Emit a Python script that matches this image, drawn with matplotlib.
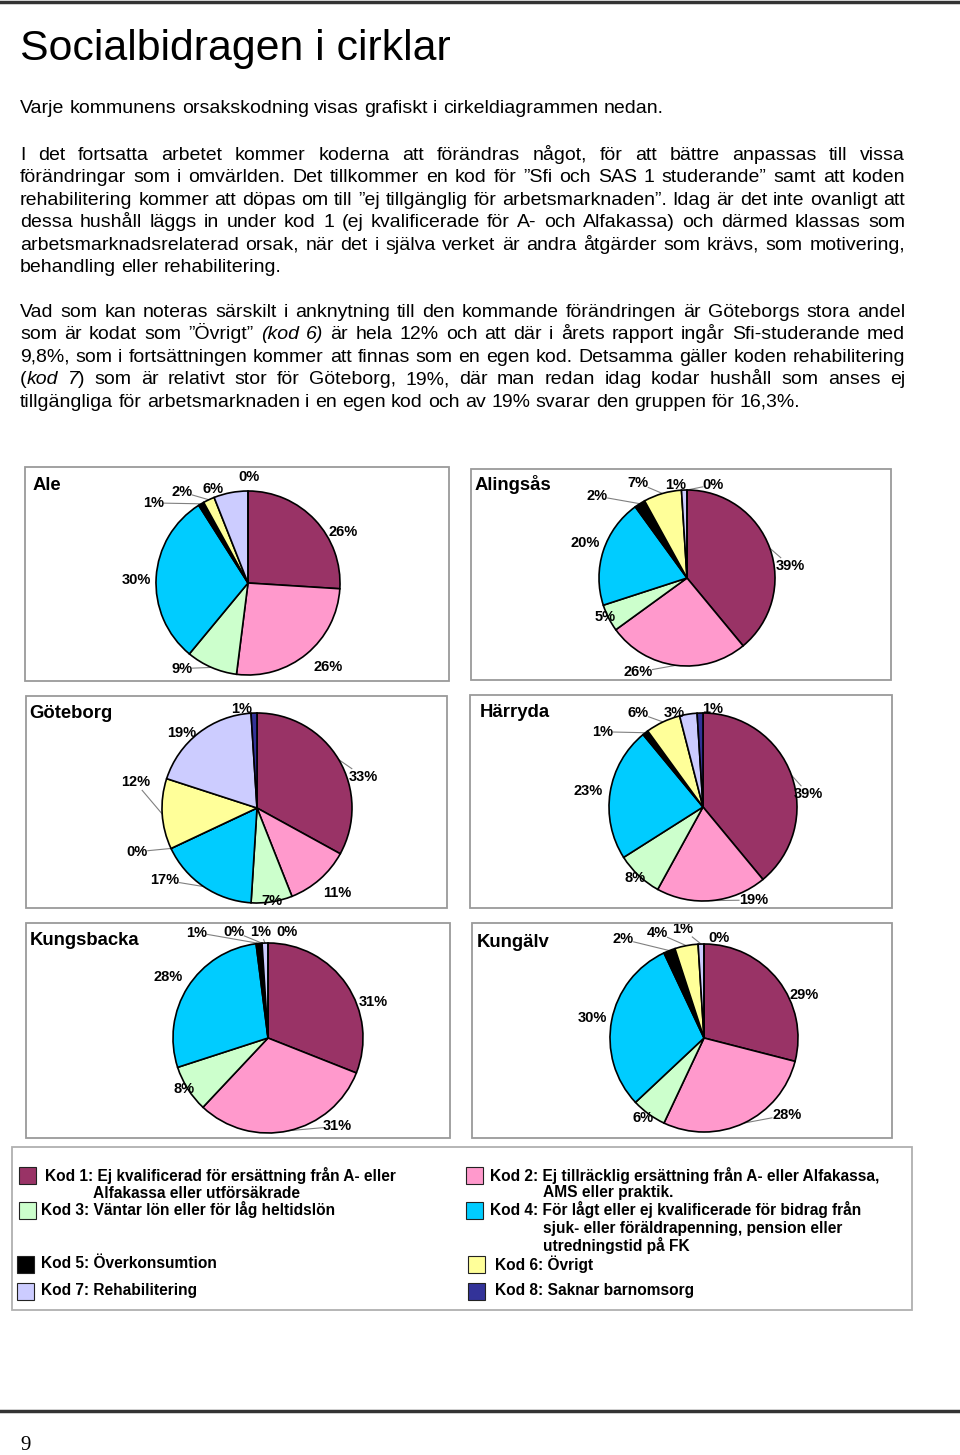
import matplotlib
matplotlib.use('Agg')
import matplotlib.pyplot as plt
from matplotlib.patches import Rectangle
from matplotlib.lines import Line2D
import numpy as np

# ---------------- data ----------------
codes = ['Kod 1', 'Kod 2', 'Kod 3', 'Kod 4', 'Kod 5', 'Kod 6', 'Kod 7', 'Kod 8']
code_colors = ['#993366', '#FF99CC', '#CCFFCC', '#00CCFF', '#000000', '#FFFF99', '#CCCCFF', '#333399']
legend_texts = [
    ['Kod 1: Ej kvalificerad för ersättning från A- eller', 'Alfakassa eller utförsäkrade'],
    ['Kod 2: Ej tillräcklig ersättning från A- eller Alfakassa,', 'AMS eller praktik.'],
    ['Kod 3: Väntar lön eller för låg heltidslön'],
    ['Kod 4: För lågt eller ej kvalificerade för bidrag från', 'sjuk- eller föräldrapenning, pension eller', 'utredningstid på FK'],
    ['Kod 5: Överkonsumtion'],
    ['Kod 6: Övrigt'],
    ['Kod 7: Rehabilitering'],
    ['Kod 8: Saknar barnomsorg'],
]

municipalities = ['Ale', 'Alingsås', 'Göteborg', 'Härryda', 'Kungsbacka', 'Kungälv']
ale = [26, 26, 9, 30, 1, 2, 6, 0]
alingsas = [39, 26, 5, 20, 2, 7, 1, 0]
goteborg = [33, 11, 7, 17, 0, 12, 19, 1]
harryda = [39, 19, 8, 23, 1, 6, 3, 1]
kungsbacka = [31, 31, 8, 28, 1, 0, 1, 0]
kungalv = [29, 28, 6, 30, 2, 4, 1, 0]
shares = [ale, alingsas, goteborg, harryda, kungsbacka, kungalv]

title = 'Socialbidragen i cirklar'
intro = 'Varje kommunens orsakskodning visas grafiskt i cirkeldiagrammen nedan.'
para2 = [
    'I det fortsatta arbetet kommer koderna att förändras något, för att bättre anpassas till vissa',
    'förändringar som i omvärlden. Det tillkommer en kod för ”Sfi och SAS 1 studerande” samt att koden',
    'rehabilitering kommer att döpas om till ”ej tillgänglig för arbetsmarknaden”. Idag är det inte ovanligt att',
    'dessa hushåll läggs in under kod 1 (ej kvalificerade för A- och Alfakassa) och därmed klassas som',
    'arbetsmarknadsrelaterad orsak, när det i själva verket är andra åtgärder som krävs, som motivering,',
    'behandling eller rehabilitering.',
]
# *...* marks italic segments
para3 = [
    'Vad som kan noteras särskilt i anknytning till den kommande förändringen är Göteborgs stora andel',
    'som är kodat som ”Övrigt” *(kod* *6)* är hela 12% och att där i årets rapport ingår Sfi-studerande med',
    '9,8%, som i fortsättningen kommer att finnas som en egen kod.  Detsamma gäller koden rehabilitering',
    '(*kod* *7*) som är relativt stor för Göteborg, 19%, där man redan idag kodar hushåll som anses ej',
    'tillgängliga för arbetsmarknaden i en egen kod och av 19% svarar den gruppen för 16,3%.',
]
page_number = '9'

# ---------------- layout ----------------
W, H = 960, 1455
DPI = 100
fig = plt.figure(figsize=(W / DPI, H / DPI), dpi=DPI)
fig.patch.set_facecolor('white')
renderer = fig.canvas.get_renderer()

SANS = ['Liberation Sans', 'DejaVu Sans']


def fx(x):
    return x / W


def fy(y):
    return 1 - y / H


# page rules
fig.add_artist(Line2D([0, 1], [fy(2), fy(2)], color='#333333', lw=2.5, transform=fig.transFigure))
fig.add_artist(Line2D([0, 1], [fy(1411), fy(1411)], color='#333333', lw=2.5, transform=fig.transFigure))
fig.text(fx(20), fy(1450), page_number, family=['Liberation Serif', 'DejaVu Serif'], fontsize=15,
         va='baseline', ha='left')

fig.text(fx(20), fy(60), title, family=SANS, fontsize=30.8, va='baseline', ha='left')

BODY_SIZE = 14


def parse_words(line):
    words = []
    for w in line.split():
        segs = []
        parts = w.split('*')
        italic = False
        for i, p in enumerate(parts):
            if i > 0:
                italic = not italic
            if p:
                segs.append((p, italic))
        words.append(segs)
    return words


def measure(s, italic=False, size=BODY_SIZE):
    t = fig.text(0, 0, s, family=SANS, fontsize=size, style='italic' if italic else 'normal')
    w = t.get_window_extent(renderer).width
    t.remove()
    return w


space_w = measure('a a') - measure('aa')


def draw_line(line, x0, x1, yb, justify):
    words = parse_words(line)
    items = []
    widths = []
    for segs in words:
        row = []
        tot = 0
        for s, it in segs:
            t = fig.text(0, 0, s, family=SANS, fontsize=BODY_SIZE, style='italic' if it else 'normal',
                         va='baseline', ha='left')
            wd = t.get_window_extent(renderer).width
            row.append((t, wd))
            tot += wd
        items.append(row)
        widths.append(tot)
    if justify and len(words) > 1:
        gap = (x1 - x0 - sum(widths)) / (len(words) - 1)
    else:
        gap = space_w
    x = x0
    for row, tot in zip(items, widths):
        for t, wd in row:
            t.set_position((fx(x), fy(yb)))
            x += wd
        x += gap


X0, X1 = 20, 905
draw_line(intro, X0, X1, 113, False)
for i, ln in enumerate(para2):
    draw_line(ln, X0, X1, 160 + i * 22.4, i < len(para2) - 1)
for i, ln in enumerate(para3):
    draw_line(ln, X0, X1, 317 + i * 22.4, i < len(para3) - 1)

# panels: box (x0, y0, x1, y1), pie center, radius, title position
panels = [
    dict(box=(25, 467, 449, 681), c=(248, 583), r=92, t=(33, 490)),
    dict(box=(471, 469, 891, 680), c=(687, 578), r=88, t=(475, 490)),
    dict(box=(26, 696, 447, 908), c=(257, 808), r=95, t=(29, 718)),
    dict(box=(470, 695, 892, 908), c=(703, 807), r=94, t=(480, 717)),
    dict(box=(26, 923, 450, 1138), c=(268, 1038), r=95, t=(30, 945)),
    dict(box=(472, 923, 892, 1138), c=(704, 1038), r=94, t=(477, 947)),
]

# label positions in pie-radius units (x right, y up), and slices with leader lines
label_pos = [
    [(1.03, 0.55), (0.87, -0.91), (-0.72, -0.93), (-1.21, 0.03), (-1.03, 0.87), (-0.72, 0.99), (-0.38, 1.02), (0.01, 1.15)],
    [(1.17, 0.14), (-0.56, -1.07), (-0.93, -0.44), (-1.16, 0.40), (-1.02, 0.93), (-0.56, 1.08), (-0.13, 1.06), (0.30, 1.06)],
    [(1.12, 0.33), (0.85, -0.89), (0.16, -0.98), (-0.97, -0.76), (-1.26, -0.46), (-1.28, 0.27), (-0.79, 0.79), (-0.16, 1.04)],
    [(1.12, 0.14), (0.54, -0.99), (-0.72, -0.76), (-1.22, 0.17), (-1.07, 0.80), (-0.69, 1.00), (-0.31, 1.00), (0.10, 1.04)],
    [(1.11, 0.38), (0.73, -0.93), (-0.88, -0.54), (-1.05, 0.64), (-0.75, 1.11), (-0.36, 1.12), (-0.08, 1.12), (0.20, 1.12)],
    [(1.07, 0.46), (0.88, -0.82), (-0.65, -0.85), (-1.19, 0.21), (-0.86, 1.05), (-0.50, 1.12), (-0.23, 1.16), (0.16, 1.06)],
]
leaders = [
    [2, 4, 5],
    [0, 1, 4, 5, 7],
    [0, 3, 4, 5],
    [0, 1, 4, 5],
    [1, 4, 5, 6],
    [1, 4, 5, 6],
]

K = 1.5
for name, vals, p, lpos, lead in zip(municipalities, shares, panels, label_pos, leaders):
    bx0, by0, bx1, by1 = p['box']
    fig.add_artist(Rectangle((fx(bx0), fy(by1)), (bx1 - bx0) / W, (by1 - by0) / H,
                             transform=fig.transFigure, fill=False, edgecolor='#9a9a9a', lw=1.3))
    fig.text(fx(p['t'][0]), fy(p['t'][1]), name, family=SANS, fontsize=13.3, fontweight='bold',
             va='baseline', ha='left')
    cx, cy = p['c']
    r = p['r']
    ax = fig.add_axes([fx(cx - K * r), fy(cy + K * r), 2 * K * r / W, 2 * K * r / H])
    wedges, _ = ax.pie(vals, colors=code_colors, startangle=90, counterclock=False, radius=1,
                       wedgeprops=dict(edgecolor='black', linewidth=1.2))
    ax.set_xlim(-K, K)
    ax.set_ylim(-K, K)
    ax.set_aspect('equal')
    ax.axis('off')
    for i, (v, w, (lx, ly)) in enumerate(zip(vals, wedges, lpos)):
        lab = f'{v}%'
        ax.text(lx, ly, lab, ha='center', va='center', fontsize=10.5, fontweight='bold', family=SANS,
                clip_on=False)
        if i in lead:
            ang = np.deg2rad((w.theta1 + w.theta2) / 2)
            ax_, ay_ = np.cos(ang), np.sin(ang)
            dx, dy = ax_ - lx, ay_ - ly
            hw = (len(lab) * 8.5 / 2 + 2) / r
            hh = 8.0 / r
            t = min(hw / abs(dx) if dx else 1e9, hh / abs(dy) if dy else 1e9)
            ex, ey = lx + dx * t, ly + dy * t
            ax.plot([ax_, ex], [ay_, ey], color='#808080', lw=0.8, clip_on=False, zorder=0.5)

# legend
fig.add_artist(Rectangle((fx(12), fy(1310)), 900 / W, 163 / H, transform=fig.transFigure,
                         fill=False, edgecolor='#b0b0b0', lw=1.3))
leg_layout = [
    dict(sq=(19, 1167), tx=45, ty=1175, cont=93),
    dict(sq=(466, 1167), tx=490, ty=1175, cont=543),
    dict(sq=(19, 1202), tx=41, ty=1210, cont=93),
    dict(sq=(466, 1202), tx=490, ty=1210, cont=543),
    dict(sq=(17, 1256), tx=41, ty=1264, cont=93),
    dict(sq=(468, 1256), tx=495, ty=1264, cont=543),
    dict(sq=(17, 1283), tx=41, ty=1291, cont=93),
    dict(sq=(468, 1283), tx=495, ty=1291, cont=543),
]
for col, lines, L in zip(code_colors, legend_texts, leg_layout):
    sx, sy = L['sq']
    fig.add_artist(Rectangle((fx(sx), fy(sy + 17)), 17 / W, 17 / H, transform=fig.transFigure,
                             facecolor=col, edgecolor='#222222', lw=0.8))
    for j, ln in enumerate(lines):
        x = L['tx'] if j == 0 else L['cont']
        fig.text(fx(x), fy(L['ty'] + j * 18), ln, family=SANS, fontsize=11.2, fontweight='bold',
                 va='center', ha='left')

fig.savefig('out.png', dpi=DPI, facecolor='white')
